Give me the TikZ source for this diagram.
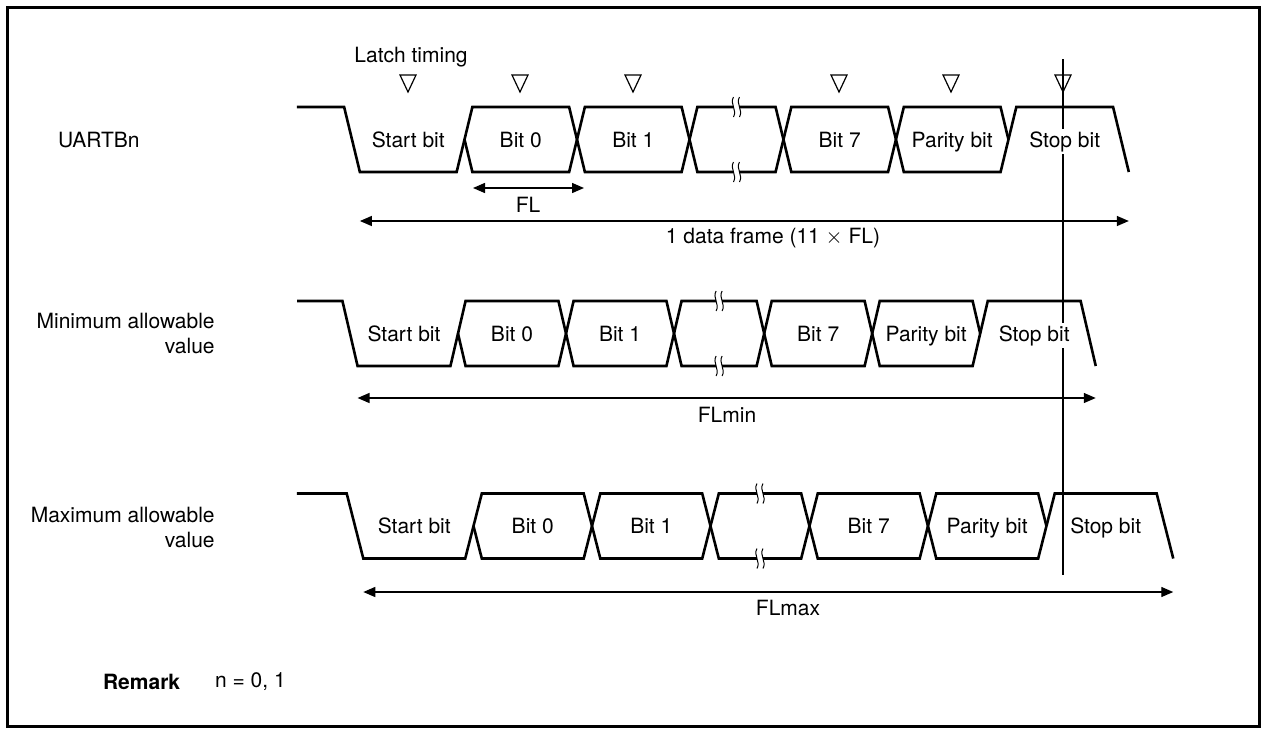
\documentclass[tikz,border=0pt]{standalone}
\usepackage{fontspec}
\setmainfont{TeX Gyre Heros}
\usetikzlibrary{arrows.meta}
\tikzset{
  sig/.style = {line width=1.3pt},% signal waveform
  bitlabel/.style = {fill=white, inner sep=1pt, anchor=base},% text in a bit cell
  rowlabel/.style = {anchor=east, align=right, inner sep=0pt},% name of a waveform
  dimarrow/.style = {{Triangle[length=6pt,width=5pt]}-{Triangle[length=6pt,width=5pt]},
    line width=0.7pt},% length arrow
  latch/.style = {line width=0.6pt},% latch timing marker
  brkmark/.pic = {% break in a long line
    \fill[white] (-3,-7) rectangle (3,7);
    \draw[line width=0.5pt] (-3,-10) .. controls (-7,-3) and (1,3) .. (-3,10)
      (3,-10) .. controls (-1,-3) and (7,3) .. (3,10);
  }
}
% #1 name, #2 mid line, #3 first falling edge, #4 bit length, #5 arrow offset
\newcommand{\uartrow}[5]{%
  \begin{scope}[shift={(#3,#2)}, x=#4*0.5pt]
    \draw[sig] (-0.49,-32.5) -- (-0.07,-32.5) -- (0.07,32.5) -- (0.93,32.5) -- (1.07,-32.5)
      -- (1.93,-32.5) -- (2.07,32.5) -- (2.93,32.5) -- (3.07,-32.5) -- (3.765,-32.5)
      -- (3.905,32.5) -- (4.765,32.5) -- (4.905,-32.5) -- (5.765,-32.5) -- (5.835,0);
    \draw[sig] (1,0) -- (1.07,32.5) -- (1.93,32.5) -- (2.07,-32.5) -- (2.93,-32.5)
      -- (3.07,32.5) -- (3.765,32.5) -- (3.905,-32.5) -- (4.765,-32.5) -- (4.905,32.5)
      -- (5.765,32.5) -- (5.905,-32.5) -- (6.765,-32.5) -- (6.905,32.5);
    \node[bitlabel] (#1start) at (0.5,7.5) {Start bit};
    \node[bitlabel] (#1bit0) at (1.5,7.5) {Bit 0};
    \node[bitlabel] (#1bit1) at (2.5,7.5) {Bit 1};
    \node[bitlabel] (#1bit7) at (4.335,7.5) {Bit 7};
    \node[bitlabel] (#1parity) at (5.335,7.5) {Parity bit};
    \node[bitlabel] (#1stop) at (6.335,7.5) {Stop bit};
    \coordinate (#1brkt) at (3.4175,-32.5);
    \coordinate (#1brkb) at (3.4175,32.5);
    \coordinate (#1al) at (0.07,#5);
    \coordinate (#1ar) at (6.905,#5);
  \end{scope}
  \pic at (#1brkt) {brkmark};
  \pic at (#1brkb) {brkmark};
  \draw[dimarrow] (#1al) -- (#1ar);
}

\begin{document}
\begin{tikzpicture}[x=0.5pt, y=-0.5pt, font=\fontsize{10.5}{12.5}\selectfont]
    \useasboundingbox (0,0) rectangle (1261,728);
    \draw[line width=1.5pt] (7.5,7.5) rectangle (1259.5,726.5);

    % sampling point of the stop bit
    \coordinate (smptop) at (1063,59);
    \coordinate (smpbot) at (1063,575);
    \draw[line width=0.6pt] (smptop) -- (smpbot);

    \node (latch) at (411,57) {Latch timing};
    \foreach \x in {408,520,633,839,951,1063}
      \draw[latch] (\x-8,75) -- (\x+8,75) -- (\x,92) -- cycle;

    \uartrow{ua}{139.5}{352}{112.5}{81.5}
    \uartrow{mn}{333.5}{350}{108}{64.5}
    \uartrow{mx}{526}{355}{118.5}{66}

    \node[rowlabel] (uaname) at (140,140) {UARTBn};
    \node[rowlabel] (mnname) at (215,333) {Minimum allowable\\value};
    \node[rowlabel] (mxname) at (215,527) {Maximum allowable\\value};

    % one bit
    \coordinate (fla) at (473,188);
    \coordinate (flb) at (584,188);
    \draw[dimarrow] (fla) -- (flb);
    \node (fl) at (528,205) {FL};

    \node (frame) at (773,238) {1 data frame (11 $\times$ FL)};
    \node (flmin) at (727,415) {FLmin};
    \node (flmax) at (788,608) {FLmax};

    \node[anchor=west, font=\fontsize{10.5}{12.5}\selectfont\bfseries] (remark) at (96,682) {Remark};
    \node[anchor=west] (remarkn) at (208,682) {n = 0, 1};
\end{tikzpicture}
\end{document}
